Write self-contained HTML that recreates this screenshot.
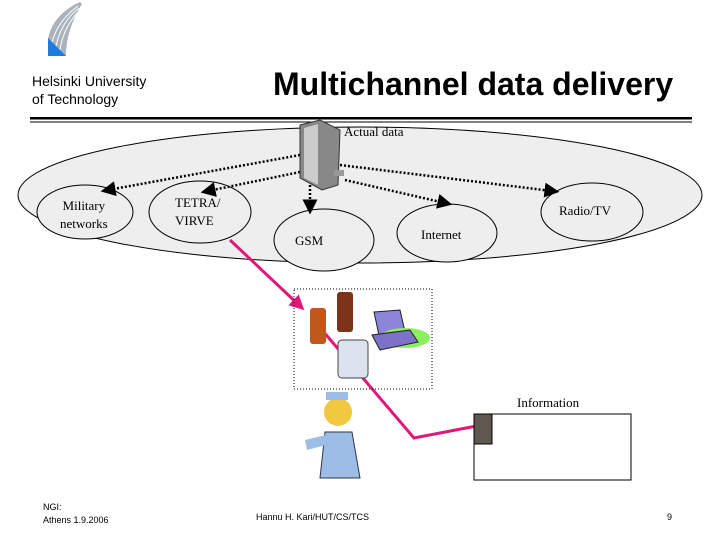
<!DOCTYPE html>
<html><head><style>
body{margin:0;width:720px;height:540px;background:#fff;position:relative;overflow:hidden;font-family:"Liberation Sans",sans-serif}
.a{position:absolute}
.s{font-family:"Liberation Serif",serif;font-size:13px}
</style></head><body>
<svg class="a" style="left:0;top:0" width="720" height="540">
<defs>
<marker id="d" markerWidth="6" markerHeight="6" refX="3" refY="3" orient="auto"><path d="M0,0L6,3L0,6z" fill="#000"/></marker>
<marker id="p" markerWidth="5" markerHeight="5" refX="3" refY="2.5" orient="auto"><path d="M0,0L5,2.5L0,5z" fill="#e0187a"/></marker>
</defs>
<!-- logo -->
<path d="M80,2 C62,10 50,24 48,40 L66,56 C66,38 72,20 82,4Z" fill="#a9b3bc"/>
<g stroke="#fff" stroke-width="1" fill="none">
<path d="M52,42 C56,28 64,16 78,6"/><path d="M56,46 C59,32 66,18 79,8"/><path d="M60,50 C62,36 68,22 80,10"/>
</g>
<path d="M48,38 L48,56 L66,56Z" fill="#1f7de0"/>
<rect x="30" y="117" width="662" height="2.5" fill="#000"/>
<rect x="30" y="121.5" width="662" height="1" fill="#000"/>
<ellipse cx="360" cy="195" rx="342" ry="68" fill="#eeeeee" stroke="#000"/>
<g fill="#eee" stroke="#000">
<ellipse cx="85" cy="212" rx="48" ry="27"/>
<ellipse cx="200" cy="212" rx="51" ry="31"/>
<ellipse cx="324" cy="240" rx="50" ry="31"/>
<ellipse cx="447" cy="233" rx="50" ry="29"/>
<ellipse cx="592" cy="212" rx="51" ry="29"/>
</g>
<g stroke="#000" stroke-width="2.5" stroke-dasharray="2,2" fill="none">
<line x1="300" y1="155" x2="108" y2="190" marker-end="url(#d)"/>
<line x1="300" y1="172" x2="208" y2="191" marker-end="url(#d)"/>
<line x1="310" y1="185" x2="310" y2="207" marker-end="url(#d)"/>
<line x1="345" y1="180" x2="445" y2="203" marker-end="url(#d)"/>
<line x1="340" y1="165" x2="552" y2="191" marker-end="url(#d)"/>
</g>
<!-- server -->
<path d="M300,125 L320,120 L340,130 L338,185 L322,190 L300,178Z" fill="#888" stroke="#333"/>
<path d="M304,128 L318,124 L318,185 L304,178Z" fill="#ccc"/>
<rect x="334" y="170" width="10" height="6" fill="#999"/>
<!-- pink -->
<g stroke="#e0187a" stroke-width="3" fill="none">
<line x1="230" y1="240" x2="300" y2="306" marker-end="url(#p)"/>
<polyline points="322,330 414,438 487,424" marker-end="url(#p)"/>
</g>
<rect x="294" y="289" width="138" height="100" fill="none" stroke="#000" stroke-dasharray="1,2"/>
<!-- devices -->
<rect x="310" y="308" width="16" height="36" rx="3" fill="#c0581c"/>
<rect x="337" y="292" width="16" height="40" rx="3" fill="#7a3418"/>
<path d="M374,312 L400,310 L406,336 L380,340Z" fill="#8c85d8" stroke="#222"/>
<ellipse cx="405" cy="338" rx="25" ry="10" fill="#8bf05c"/>
<path d="M372,335 L410,330 L418,342 L380,350Z" fill="#7c72c8" stroke="#222"/>
<rect x="338" y="340" width="30" height="38" rx="4" fill="#dce3ee" stroke="#444"/>
<!-- nurse -->
<circle cx="338" cy="412" r="14" fill="#f2c840"/>
<rect x="326" y="392" width="22" height="8" fill="#9bbde6"/>
<path d="M325,432 L352,432 L360,478 L320,478Z" fill="#9bbde6" stroke="#334"/>
<path d="M305,440 L326,435 L326,445 L307,450Z" fill="#9bbde6"/>
<rect x="474" y="414" width="157" height="66" fill="#fff" stroke="#000"/>
<rect x="474" y="414" width="18" height="30" fill="#5e5850" stroke="#000"/>
</svg>
<div class="a" style="left:32px;top:72px;font-size:14px;line-height:18px">Helsinki University<br>of Technology</div>
<div class="a" style="left:273px;top:66px;font-size:32px;font-weight:bold">Multichannel data delivery</div>
<div class="a s" style="left:344px;top:124px">Actual data</div>
<div class="a s" style="left:60px;top:197px;line-height:18px;text-align:center">Military<br>networks</div>
<div class="a s" style="left:175px;top:194px;line-height:18px">TETRA/<br>VIRVE</div>
<div class="a s" style="left:295px;top:233px">GSM</div>
<div class="a s" style="left:421px;top:227px">Internet</div>
<div class="a s" style="left:559px;top:203px">Radio/TV</div>
<div class="a s" style="left:517px;top:395px">Information</div>
<div class="a" style="left:43px;top:501px;font-size:9px;line-height:13px">NGI:<br>Athens 1.9.2006</div>
<div class="a" style="left:256px;top:512px;font-size:9px">Hannu H. Kari/HUT/CS/TCS</div>
<div class="a" style="left:667px;top:512px;font-size:9px">9</div>
</body></html>
